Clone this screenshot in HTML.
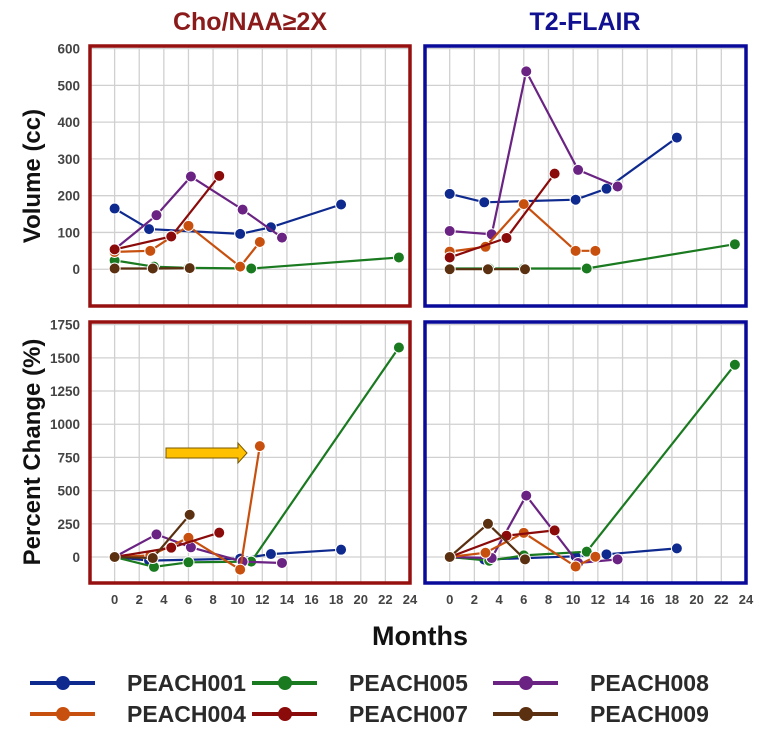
<!DOCTYPE html>
<html><head><meta charset="utf-8"><style>
html,body{margin:0;padding:0;background:#fff;}
svg{display:block;font-family:"Liberation Sans",sans-serif;}
</style></head><body>
<svg id="c" width="761" height="734" viewBox="0 0 761 734">
<text x="250" y="30" text-anchor="middle" font-size="25" font-weight="bold" fill="#8b1a1a">Cho/NAA≥2X</text>
<text x="585" y="30" text-anchor="middle" font-size="25" font-weight="bold" fill="#101090">T2-FLAIR</text>
<text transform="translate(40,176) rotate(-90)" text-anchor="middle" font-size="24" font-weight="bold" fill="#111">Volume (cc)</text>
<text transform="translate(40,452) rotate(-90)" text-anchor="middle" font-size="24" font-weight="bold" fill="#111">Percent Change (%)</text>
<text x="420" y="645" text-anchor="middle" font-size="27" font-weight="bold" fill="#111">Months</text>
<g id="plots"></g>
<g id="legend"></g>
</svg>
<script>
const seriesNames=["PEACH001","PEACH004","PEACH005","PEACH007","PEACH008","PEACH009"];
const seriesColors=["#0f2a8f","#c8500f","#1a7a20","#8b0a0a","#6a2382","#5a3010"];
const m001=[0,2.8,10.2,12.7,18.4];
const m004=[0,2.9,6.0,10.2,11.8];
const m005=[0,3.2,6.0,11.1,23.1];
const m007=[0,4.6,8.5];
const m008=[0,3.4,6.2,10.4,13.6];
const m009=[0,3.1,6.1];
const choVol001=[165,109,96,114,176];
const choVol004=[47,50,118,7,74];
const choVol005=[24,7,4,2,32];
const choVol007=[54,89,254];
const choVol008=[54,147,252,162,86];
const choVol009=[2,2,3];
const flVol001=[205,182,189,219,358];
const flVol004=[48,61,177,50,50];
const flVol005=[2,2,2,2,68];
const flVol007=[32,85,260];
const flVol008=[104,95,538,270,225];
const flVol009=[0,0,0];
const choPct001=[0,-27,-12,22,55];
const choPct004=[0,12,145,-95,835];
const choPct005=[0,-75,-40,-35,1578];
const choPct007=[0,70,183];
const choPct008=[0,170,73,-35,-45];
const choPct009=[0,-8,318];
const flPct001=[0,-20,5,20,65];
const flPct004=[0,32,182,-72,2];
const flPct005=[0,-28,12,40,1448];
const flPct007=[0,160,200];
const flPct008=[0,-8,462,-45,-18];
const flPct009=[0,250,-18];
const volTicks=[0,100,200,300,400,500,600];
const pctTicks=[0,250,500,750,1000,1250,1500,1750];
const monthTicks=[0,2,4,6,8,10,12,14,16,18,20,22,24];

const NS="http://www.w3.org/2000/svg";
function mk(tag,attrs,parent){const e=document.createElementNS(NS,tag);for(const k in attrs)e.setAttribute(k,attrs[k]);parent.appendChild(e);return e;}
const plots=document.getElementById('plots');
const order=[0,2,4,1,3,5];
function panel(name,box,border,ydom,ticks,showY,showX,data){
  const g=mk('g',{},plots);
  
  
  const [x0,y0,x1,y1]=box;
  const xs=v=>x0+(v+2)/26*(x1-x0);
  const ys=v=>y1-(v-ydom[0])/(ydom[1]-ydom[0])*(y1-y0);
  mk('rect',{x:x0,y:y0,width:x1-x0,height:y1-y0,fill:'#fff'},g);
  for(let m=0;m<=24;m+=2){const l=mk('line',{x1:xs(m),x2:xs(m),y1:y0,y2:y1,stroke:'#d0d0d0','stroke-width':1.3},g);
    
    }
  const step=ticks[1]-ticks[0];
  for(let v=ticks[0]-step;v<=ticks[ticks.length-1];v+=step){const y=ys(v);if(y<y0||y>y1)continue;
    const l=mk('line',{x1:x0,x2:x1,y1:y,y2:y,stroke:'#d0d0d0','stroke-width':1.3},g);
    
    }
  if(showY){ticks.forEach(v=>{const t=mk('text',{x:x0-10,y:ys(v)+5,'text-anchor':'end','font-size':13.5,'font-weight':'bold',fill:'#444'},g);t.textContent=v;
    
    });}
  if(showX){monthTicks.forEach(v=>{const t=mk('text',{x:xs(v),y:y1+21,'text-anchor':'middle','font-size':13,'font-weight':'bold',fill:'#444'},g);t.textContent=v;
    
    });}
  order.forEach(i=>{const [mx,vals]=data[i];const c=seriesColors[i];
    const pts=mx.map((m,k)=>xs(m).toFixed(1)+','+ys(vals[k]).toFixed(1)).join(' ');
    const pl=mk('polyline',{points:pts,fill:'none',stroke:c,'stroke-width':2.2},g);
    
    
    mx.forEach((m,k)=>{const p=mk('circle',{cx:xs(m),cy:ys(vals[k]),r:5.5,fill:c,stroke:'#fff','stroke-width':1},g);
      
      });
  });
  mk('rect',{x:x0,y:y0,width:x1-x0,height:y1-y0,fill:'none',stroke:border,'stroke-width':3.5},g);
  return {xs,ys,g};
}
panel('panel-cho-volume',[90,46,410,306],'#961010',[-100,607],volTicks,true,false,
 [[m001,choVol001],[m004,choVol004],[m005,choVol005],[m007,choVol007],[m008,choVol008],[m009,choVol009]]);
panel('panel-flair-volume',[425,46,746,306],'#0a0a9a',[-100,607],volTicks,false,false,
 [[m001,flVol001],[m004,flVol004],[m005,flVol005],[m007,flVol007],[m008,flVol008],[m009,flVol009]]);
panel('panel-cho-percent',[90,322,410,583],'#961010',[-196,1770],pctTicks,true,true,
 [[m001,choPct001],[m004,choPct004],[m005,choPct005],[m007,choPct007],[m008,choPct008],[m009,choPct009]]);
panel('panel-flair-percent',[425,322,746,583],'#0a0a9a',[-196,1770],pctTicks,false,true,
 [[m001,flPct001],[m004,flPct004],[m005,flPct005],[m007,flPct007],[m008,flPct008],[m009,flPct009]]);
const ar=mk('polygon',{points:'166,448 238,448 238,443 247,453 238,463 238,458 166,458',fill:'#ffc000',stroke:'#7a5a00','stroke-width':1},plots);


const lg=document.getElementById('legend');
const lx=[30,252,493], ly=[683,714];
const legendOrder=[0,2,4,1,3,5];
legendOrder.forEach((i,k)=>{const x=lx[k%3],y=ly[Math.floor(k/3)];
  const g=mk('g',{},lg);
  
  
  mk('line',{x1:x,x2:x+65,y1:y,y2:y,stroke:seriesColors[i],'stroke-width':4},g);
  mk('circle',{cx:x+33,cy:y,r:7,fill:seriesColors[i]},g);
  const t=mk('text',{x:x+97,y:y+8,'font-size':23,'font-weight':'bold',fill:'#2a2a2a'},g);t.textContent=seriesNames[i];
});
</script>
</body></html>
